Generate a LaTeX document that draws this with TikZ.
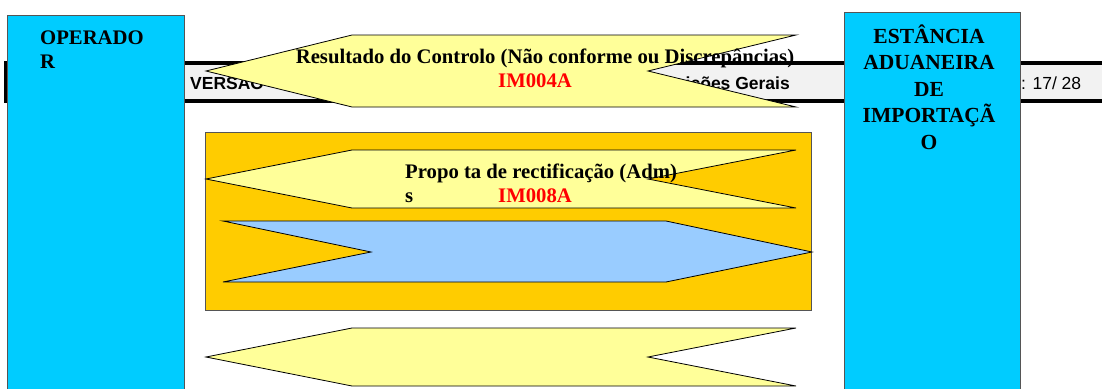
\documentclass[tikz,border=0pt]{standalone}
\usepackage{fontspec}
\setmainfont{Liberation Serif}
\newfontfamily\hdrfont{Liberation Sans}
\usepackage{tikz}

\definecolor{cyanbox}{HTML}{00CCFF}
\definecolor{orangebox}{HTML}{FFCC00}
\definecolor{paleyellow}{HTML}{FFFF99}
\definecolor{paleblue}{HTML}{99CCFF}
\definecolor{headgray}{HTML}{F2F2F2}
\definecolor{edgegray}{HTML}{555555}

\begin{document}
\begin{tikzpicture}[x=1pt, y=-1pt,
	box/.style={fill=cyanbox, draw=edgegray, line width=0.8pt},
	flag/.style={fill=paleyellow, draw=black, line width=0.8pt, line join=miter},
	blueflag/.style={fill=paleblue, draw=black, line width=0.8pt},
	lbl/.style={inner sep=0pt, font=\bfseries\fontsize{20.7}{23.5}\selectfont},
	code/.style={lbl, text=red},
	hdr/.style={inner sep=0pt, font=\hdrfont\fontsize{17.5}{20}\selectfont}]
\useasboundingbox (0,0) rectangle (1102,388);

% header band behind everything
\fill[black] (4,61) rectangle (1102,103);
\fill[headgray] (8,65) rectangle (1102,99);
\node[hdr, font=\hdrfont\bfseries\fontsize{17.5}{20}\selectfont, anchor=base west] (versao) at (190,89) {VERSÃO};
\node[hdr, font=\hdrfont\bfseries\fontsize{17.5}{20}\selectfont, anchor=base east] (gerais) at (790,89) {ições Gerais};
\node[hdr, anchor=base west] (pagina) at (1021,89) {: 17/ 28};

% the two parties
\draw[box] (7,15) rectangle (184,392);
\draw[box] (844,12) rectangle (1020,392);
\node[lbl, anchor=base west, align=left] (operador) at (40,68) {OPERADO\\R};
\node[lbl, font=\bfseries\fontsize{21.5}{26.5}\selectfont, anchor=base, text width=170pt, align=center] (estancia) at (929,43)
	{ESTÂNCIA\\ADUANEIRA\\DE\\IMPORTAÇÃ\\O};

% rectification block
\draw[fill=orangebox, draw=edgegray, line width=0.8pt] (205,132) rectangle (811,310);

% left-pointing messages
\foreach \t/\m/\b in {35/71/107, 150/179/208, 328/357/386}
	\draw[flag] (206,\m) -- (352,\t) -- (796,\t) -- (648,\m) -- (796,\b) -- (352,\b) -- cycle;

% right-pointing message
\draw[blueflag] (223,221) -- (666,221) -- (812,252) -- (666,282) -- (223,282) -- (371,252) -- cycle;

% message texts
\node[lbl, anchor=base] (resultado) at (545,63) {Resultado do Controlo (Não conforme ou Discrepâncias)};
\node[code, anchor=base] (im004a) at (535,87) {IM004A};
\node[lbl, anchor=base west, align=left] (proposta) at (405,202) {Propo ta de rectificação (Adm)\\s};
\node[code, anchor=base] (im008a) at (535,202) {IM008A};
\end{tikzpicture}
\end{document}
